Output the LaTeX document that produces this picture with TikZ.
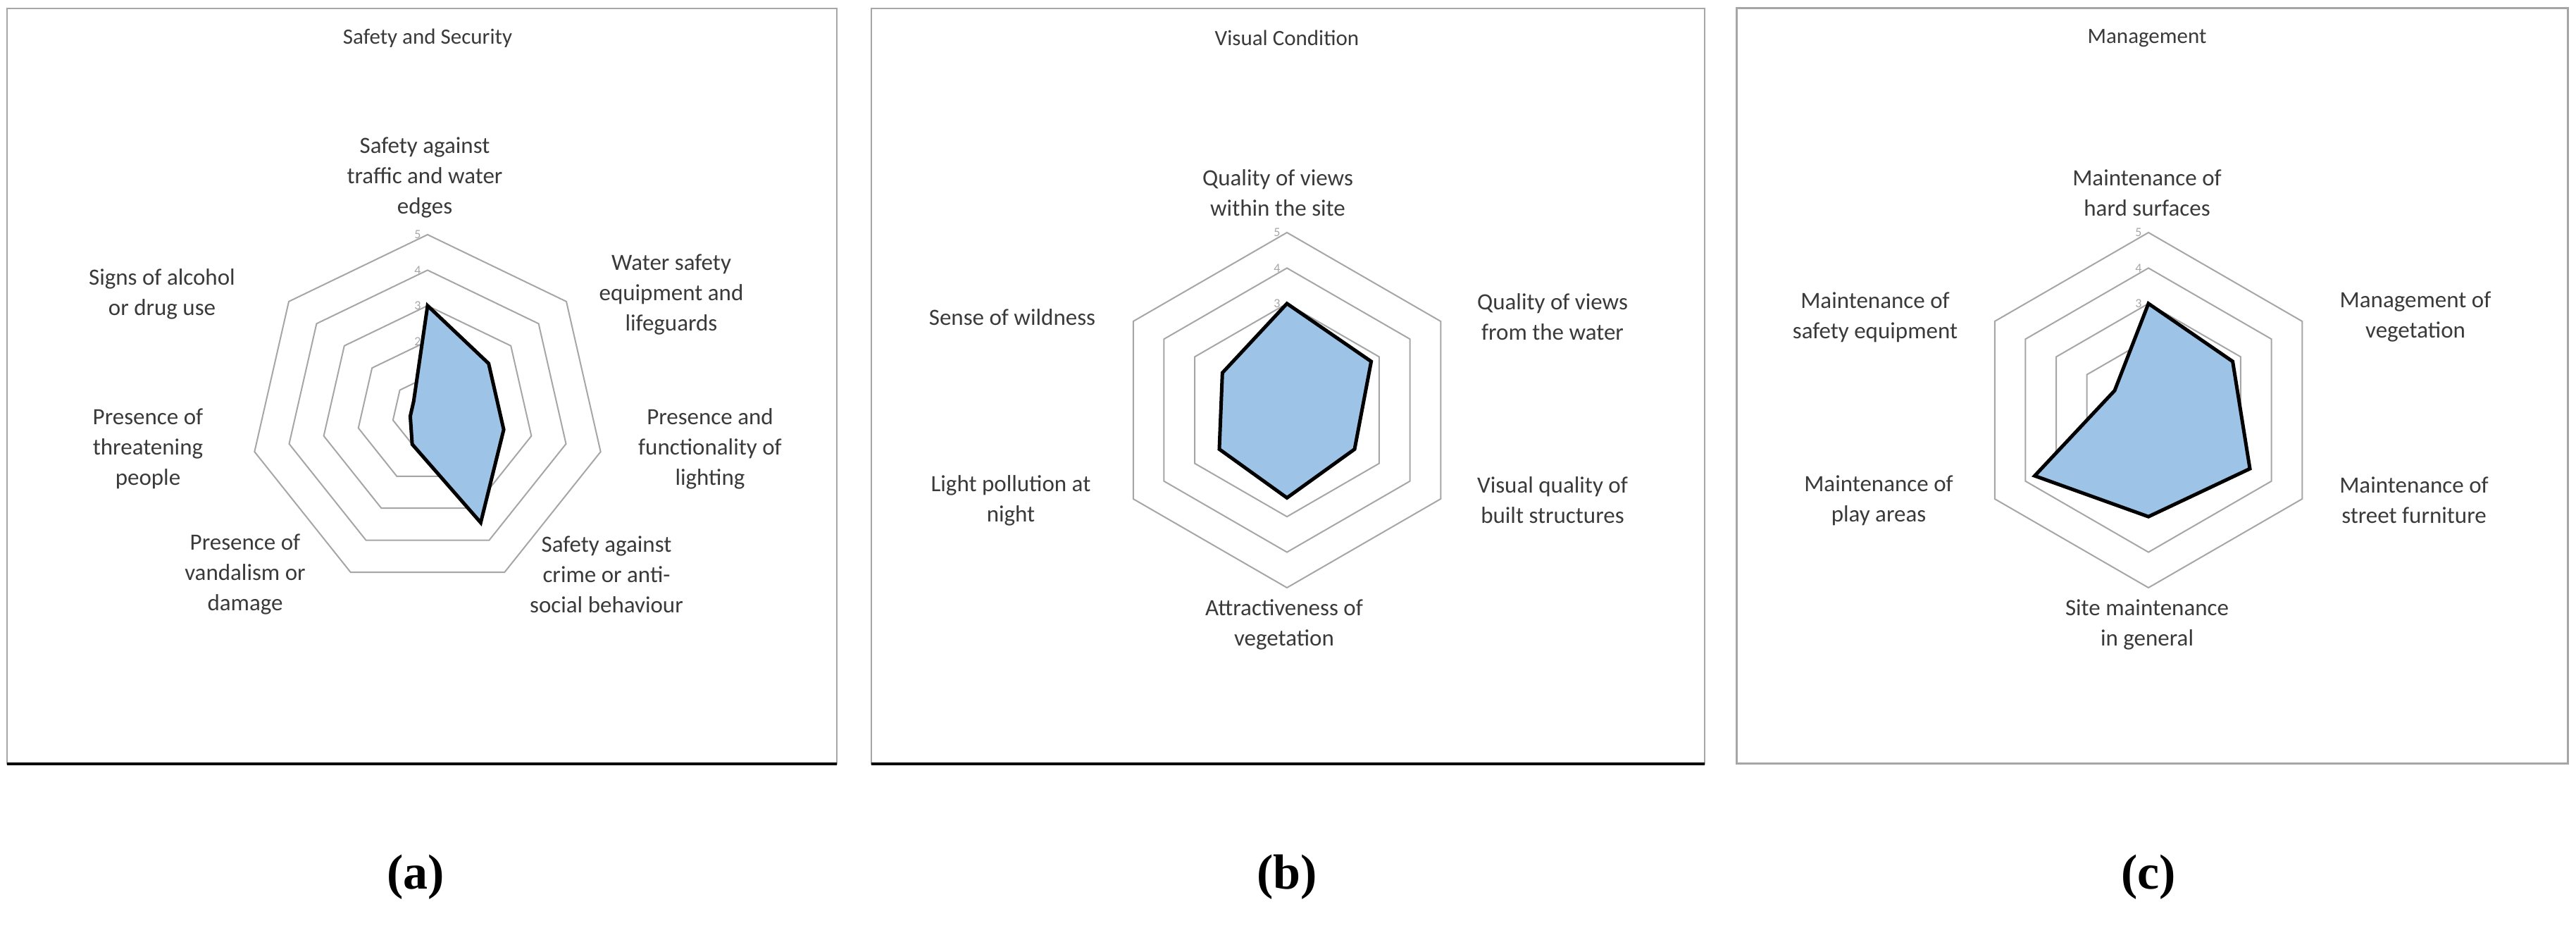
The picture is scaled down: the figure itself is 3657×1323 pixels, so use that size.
\documentclass[tikz,border=0pt]{standalone}
\usepackage{fontspec}
\setmainfont{Carlito}
\newfontfamily\capfont{Liberation Serif}
\definecolor{gridgray}{HTML}{A6A6A6}
\definecolor{radarblue}{HTML}{9DC3E6}
\definecolor{labgray}{HTML}{3A3A3A}
\newcommand\myradar[3]{%
  \begin{scope}[shift={(#1,#2)}]
    \foreach \k in {1,...,5}{
      \draw[grid] (90:\k*50.4) \foreach \i in {1,...,#3}{ -- (90-\i*360/#3:\k*50.4)} -- cycle;
    }
    \foreach \k in {0,...,5}{ \node[num] at (-14,\k*50.4) {\k}; }
  \end{scope}}
\begin{document}
\begin{tikzpicture}[x=1pt,y=1pt,
  grid/.style={draw=gridgray,line width=2pt},
  data/.style={fill=radarblue,draw=black,line width=5pt,line join=miter},
  lab/.style={font=\fontsize{33}{43}\selectfont,align=center,text=labgray},
  ttl/.style={font=\fontsize{31}{36}\selectfont,text=labgray},
  num/.style={font=\fontsize{18}{20}\selectfont,text=gridgray},
  panelcap/.style={font=\capfont\bfseries\fontsize{70}{78}\selectfont},
  frame/.style={draw=gridgray,line width=2pt}]
\useasboundingbox (0,0) rectangle (3657,1323);
% frames
\draw[frame] (10,239) rectangle (1188,1311);
\draw[line width=4pt] (10,239) -- (1188,239);
\draw[frame] (1237,239) rectangle (2420,1311);
\draw[line width=4pt] (1237,239) -- (2420,239);
\draw[frame,line width=3pt] (2465,239) rectangle (3645,1311);
% panel a
\myradar{607}{738}{7}
\begin{scope}[shift={(607,738)}]
\draw[data] (90:3*50.4) -- (90-360/7:2.2*50.4) -- (90-2*360/7:2.2*50.4) -- (90-3*360/7:3.45*50.4) -- (90-4*360/7:1.0*50.4) -- (90-5*360/7:0.5*50.4) -- (90-6*360/7:0.5*50.4) -- cycle;
\end{scope}
\node[ttl] (ta) at (607,1269) {Safety and Security};
\node[lab] (a1) at (603,1071) {Safety against\\traffic and water\\edges};
\node[lab] (a2) at (953,905) {Water safety\\equipment and\\lifeguards};
\node[lab] (a3) at (1008,686) {Presence and\\functionality of\\lighting};
\node[lab] (a4) at (861,508) {Safety against\\crime or anti-\\social behaviour};
\node[lab] (a5) at (348,508) {Presence of\\vandalism or\\damage};
\node[lab] (a6) at (210,686) {Presence of\\threatening\\people};
\node[lab] (a7) at (230,906) {Signs of alcohol\\or drug use};
\node[panelcap] (ca) at (590,78) {(a)};
% panel b
\myradar{1827}{741}{6}
\begin{scope}[shift={(1827,741)}]
\draw[data] (90:3*50.4) -- (30:2.74*50.4) -- (-30:2.2*50.4) -- (-90:2.47*50.4) -- (-150:2.2*50.4) -- (150:2.1*50.4) -- cycle;
\end{scope}
\node[ttl] (tb) at (1827,1269) {Visual Condition};
\node[lab] (b1) at (1814,1049) {Quality of views\\within the site};
\node[lab] (b2) at (2204,873) {Quality of views\\from the water};
\node[lab] (b3) at (2204,613) {Visual quality of\\built structures};
\node[lab] (b4) at (1823,437) {Attractiveness of\\vegetation};
\node[lab] (b5) at (1435,613) {Light pollution at\\night};
\node[lab] (b6) at (1437,873) {Sense of wildness};
\node[panelcap] (cb) at (1827,78) {(b)};
% panel c
\myradar{3050}{741}{6}
\begin{scope}[shift={(3050,741)}]
\draw[data] (90:3*50.4) -- (30:2.74*50.4) -- (-30:3.3*50.4) -- (-90:3.0*50.4) -- (-150:3.7*50.4) -- (150:1.1*50.4) -- cycle;
\end{scope}
\node[ttl] (tc) at (3048,1269) {Management};
\node[lab] (c1) at (3048,1049) {Maintenance of\\hard surfaces};
\node[lab] (c2) at (3429,873) {Management of\\vegetation};
\node[lab] (c3) at (3427,613) {Maintenance of\\street furniture};
\node[lab] (c4) at (3048,437) {Site maintenance\\in general};
\node[lab] (c5) at (2667,613) {Maintenance of\\play areas};
\node[lab] (c6) at (2662,873) {Maintenance of\\safety equipment};
\node[panelcap] (cc) at (3050,78) {(c)};
\end{tikzpicture}
\end{document}
